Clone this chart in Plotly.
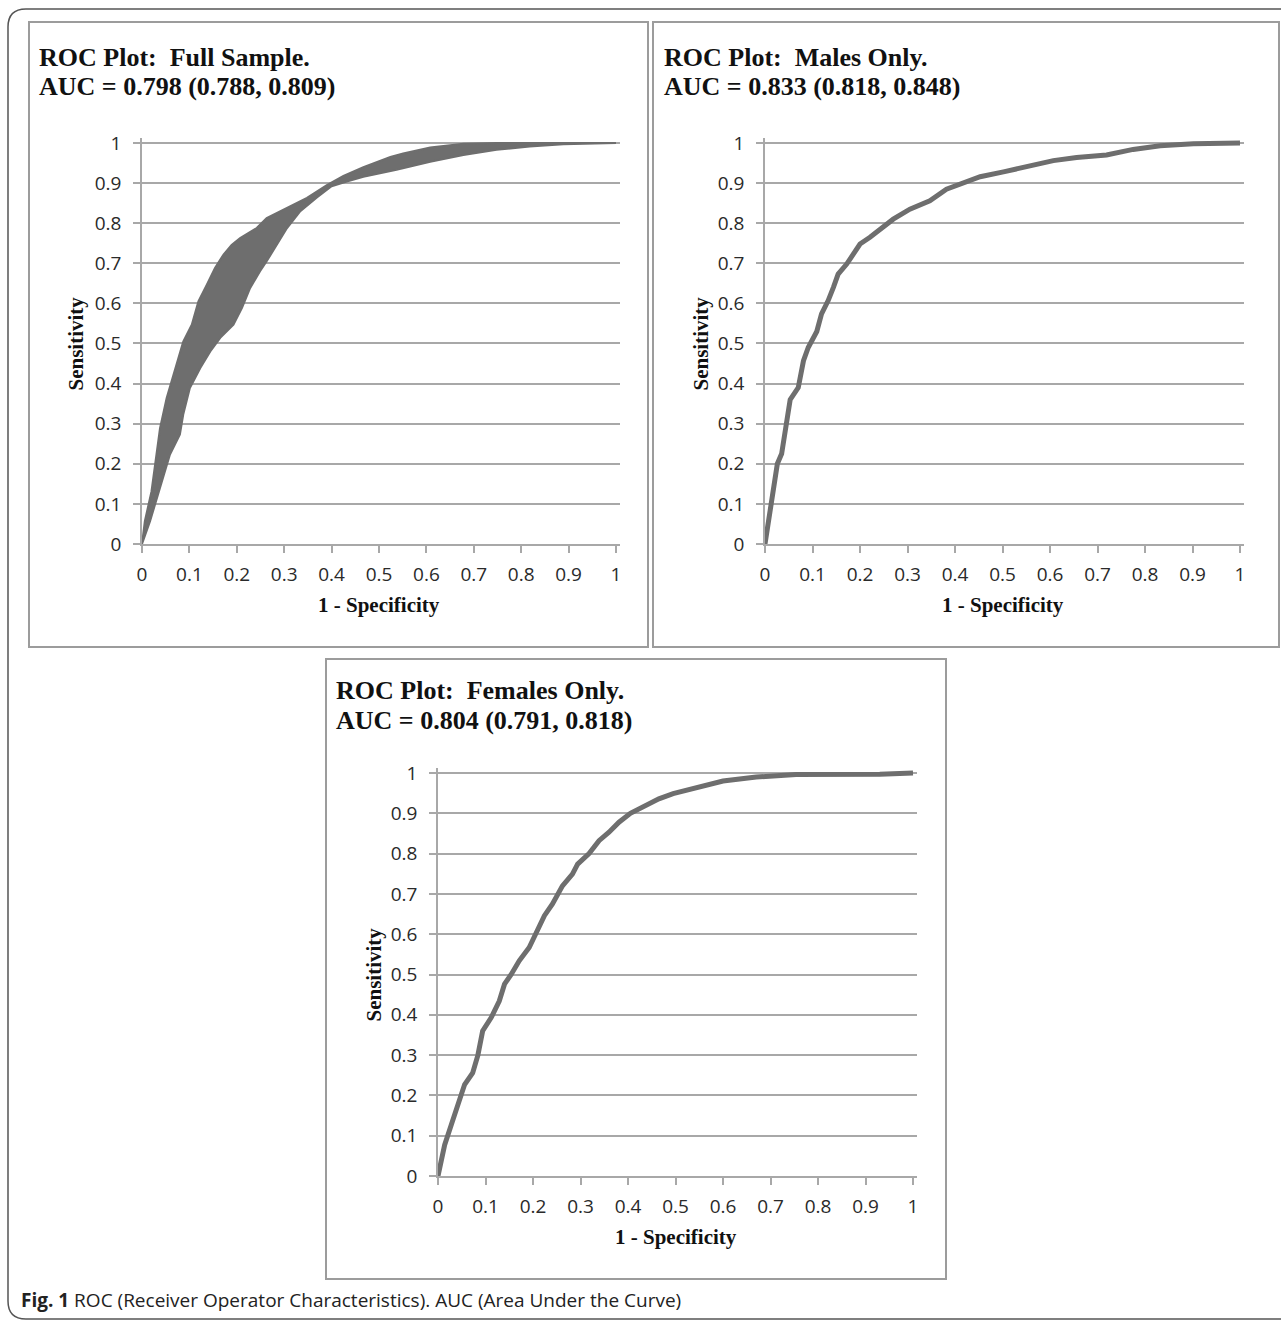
import plotly.graph_objects as go

# ---------------- data ----------------
tick_vals = [0, 0.1, 0.2, 0.3, 0.4, 0.5, 0.6, 0.7, 0.8, 0.9, 1]
tick_text = ["0", "0.1", "0.2", "0.3", "0.4", "0.5", "0.6", "0.7", "0.8", "0.9", "1"]

# Full sample: band of the curve (upper and lower edges)
full_upper_fpr = [0, 0.006, 0.02, 0.031, 0.038, 0.052, 0.07, 0.087, 0.105, 0.119, 0.137, 0.154,
                  0.172, 0.189, 0.207, 0.242, 0.263, 0.291, 0.306, 0.348, 0.39, 0.425, 0.467,
                  0.524, 0.551, 0.608, 0.678, 0.748, 1.0]
full_upper_tpr = [0, 0.057, 0.131, 0.223, 0.289, 0.364, 0.439, 0.505, 0.547, 0.605, 0.647, 0.688,
                  0.722, 0.746, 0.763, 0.788, 0.813, 0.829, 0.838, 0.863, 0.895, 0.918, 0.94,
                  0.965, 0.974, 0.989, 0.998, 1.0, 1.0]
full_lower_fpr = [0, 0.017, 0.038, 0.059, 0.08, 0.087, 0.101, 0.123, 0.144, 0.165, 0.193, 0.211,
                  0.228, 0.249, 0.263, 0.285, 0.306, 0.334, 0.369, 0.4, 0.432, 0.467, 0.537,
                  0.608, 0.678, 0.748, 0.818, 0.889, 1.0]
full_lower_tpr = [0, 0.057, 0.14, 0.223, 0.273, 0.323, 0.389, 0.439, 0.48, 0.514, 0.547, 0.589,
                  0.638, 0.68, 0.705, 0.746, 0.788, 0.83, 0.864, 0.892, 0.904, 0.916, 0.933,
                  0.953, 0.97, 0.983, 0.991, 0.997, 1.0]

male_fpr = [0, 0.007, 0.014, 0.026, 0.035, 0.042, 0.053, 0.07, 0.081, 0.091, 0.109, 0.119, 0.133,
            0.144, 0.154, 0.172, 0.186, 0.2, 0.221, 0.249, 0.27, 0.305, 0.347, 0.382, 0.41, 0.453,
            0.502, 0.551, 0.607, 0.656, 0.719, 0.775, 0.832, 0.902, 1.0]
male_tpr = [0, 0.06, 0.10, 0.20, 0.225, 0.28, 0.36, 0.39, 0.457, 0.49, 0.53, 0.574, 0.607,
            0.64, 0.673, 0.698, 0.723, 0.748, 0.765, 0.79, 0.81, 0.835, 0.856, 0.885, 0.897, 0.916,
            0.928, 0.941, 0.956, 0.964, 0.97, 0.984, 0.993, 0.998, 1.0]

female_fpr = [0, 0.007, 0.014, 0.028, 0.038, 0.049, 0.056, 0.073, 0.084, 0.094, 0.112, 0.129,
              0.14, 0.154, 0.171, 0.192, 0.21, 0.224, 0.241, 0.262, 0.283, 0.294, 0.318, 0.339,
              0.36, 0.381, 0.405, 0.437, 0.465, 0.495, 0.551, 0.6, 0.67, 0.754, 0.93, 1.0]
female_tpr = [0, 0.036, 0.077, 0.127, 0.16, 0.2, 0.227, 0.256, 0.30, 0.36, 0.393, 0.434,
              0.476, 0.50, 0.534, 0.567, 0.608, 0.646, 0.675, 0.72, 0.749, 0.774, 0.8, 0.832,
              0.853, 0.878, 0.9, 0.92, 0.936, 0.949, 0.965, 0.98, 0.99, 0.996, 0.997, 1.0]

titles = [("ROC Plot:\u00a0 Full Sample.", "AUC = 0.798 (0.788, 0.809)"),
          ("ROC Plot:\u00a0 Males Only.", "AUC = 0.833 (0.818, 0.848)"),
          ("ROC Plot:\u00a0 Females Only.", "AUC = 0.804 (0.791, 0.818)")]
x_title = "1 - Specificity"
y_title = "Sensitivity"
caption_bold = "Fig. 1"
caption_rest = " ROC (Receiver Operator Characteristics). AUC (Area Under the Curve)"

# ---------------- layout geometry ----------------
W, H = 1281, 1324
def px(x): return x / W
def py(y): return 1 - y / H

panels = [  # pixel positions of value 0 and value 1 on each axis
    dict(x0=142, x1=616, y0=544, y1=143, box=(29, 22, 648, 647), tx=37, ty=57, ylab=75),
    dict(x0=765, x1=1240, y0=544, y1=143, box=(653, 22, 1279, 647), tx=662, ty=57, ylab=700),
    dict(x0=438, x1=913, y0=1176, y1=773, box=(326, 659, 946, 1279), tx=334, ty=690, ylab=373),
]
XMAX, YMAX = 1.008, 1.012

GRID = "#a8a8a8"
CURVE = "#6e6e6e"
SERIF = "Liberation Serif, Times New Roman, serif"
SANS = "Open Sans, Liberation Sans, sans-serif"

fig = go.Figure()

band_x = full_upper_fpr + full_lower_fpr[::-1]
band_y = full_upper_tpr + full_lower_tpr[::-1]
fig.add_trace(go.Scatter(x=band_x, y=band_y, mode="lines", fill="toself", fillcolor=CURVE,
                         line=dict(color=CURVE, width=2), xaxis="x", yaxis="y",
                         showlegend=False, hoverinfo="skip"))
fig.add_trace(go.Scatter(x=male_fpr, y=male_tpr, mode="lines",
                         line=dict(color=CURVE, width=5), xaxis="x2", yaxis="y2",
                         showlegend=False))
fig.add_trace(go.Scatter(x=female_fpr, y=female_tpr, mode="lines",
                         line=dict(color=CURVE, width=5), xaxis="x3", yaxis="y3",
                         showlegend=False))

annotations = []
shapes = []
layout = {}
for i, p in enumerate(panels):
    sfx = "" if i == 0 else str(i + 1)
    sx = p["x1"] - p["x0"]
    sy = p["y0"] - p["y1"]
    xdom = [px(p["x0"]), px(p["x0"] + sx * XMAX)]
    ydom = [py(p["y0"]), py(p["y0"] - sy * YMAX)]
    layout["xaxis" + sfx] = dict(
        domain=xdom, range=[0, XMAX], anchor="y" + sfx, tickvals=tick_vals, ticktext=tick_text,
        automargin=False, showgrid=False, zeroline=False, showline=True, linecolor=GRID,
        linewidth=1.5, ticks="outside", ticklen=7, tickwidth=1.5, tickcolor=GRID,
        ticklabelstandoff=5, tickfont=dict(family=SANS, size=19, color="#2a2a2a"),
        fixedrange=True)
    layout["yaxis" + sfx] = dict(
        domain=ydom, range=[0, YMAX], anchor="x" + sfx, tickvals=tick_vals, ticktext=tick_text,
        automargin=False, showgrid=True, gridcolor=GRID, gridwidth=1.5, zeroline=False,
        showline=True, linecolor=GRID, linewidth=1.5, ticks="outside", ticklen=7,
        tickwidth=1.5, tickcolor=GRID, ticklabelstandoff=8,
        tickfont=dict(family=SANS, size=19, color="#2a2a2a"), fixedrange=True)

    bx0, by0, bx1, by1 = p["box"]
    shapes.append(dict(type="rect", xref="paper", yref="paper", x0=px(bx0), x1=px(bx1),
                       y0=py(by1), y1=py(by0), line=dict(color="#9c9c9c", width=2),
                       layer="below"))
    t1, t2 = titles[i]
    annotations.append(dict(text="<b>%s</b>" % t1, x=px(p["tx"]), y=py(p["ty"]), xref="paper",
                            yref="paper", xanchor="left", yanchor="middle", showarrow=False,
                            font=dict(family=SERIF, size=26, color="#111111")))
    annotations.append(dict(text="<b>%s</b>" % t2, x=px(p["tx"]), y=py(p["ty"] + 30), xref="paper",
                            yref="paper", xanchor="left", yanchor="middle", showarrow=False,
                            font=dict(family=SERIF, size=26, color="#111111")))
    annotations.append(dict(text="<b>%s</b>" % x_title, x=px((p["x0"] + p["x1"]) / 2),
                            y=py(p["y0"] + 61), xref="paper", yref="paper", xanchor="center",
                            yanchor="middle", showarrow=False,
                            font=dict(family=SERIF, size=21, color="#111111")))
    annotations.append(dict(text="<b>%s</b>" % y_title, x=px(p["ylab"]),
                            y=py((p["y0"] + p["y1"]) / 2), xref="paper", yref="paper",
                            xanchor="center", yanchor="middle", textangle=-90, showarrow=False,
                            font=dict(family=SERIF, size=21, color="#111111")))

annotations.append(dict(text="<b>%s</b>%s" % (caption_bold, caption_rest), x=px(19), y=py(1300),
                        xref="paper", yref="paper", xanchor="left", yanchor="middle",
                        showarrow=False, font=dict(family=SANS, size=19, color="#222222")))

# outer rounded frame (open on the right, beyond the page edge)
fx0, fy0, fy1, r = 8, 9, 1319, 18
path = ("M %f,%f L %f,%f Q %f,%f %f,%f L %f,%f Q %f,%f %f,%f L %f,%f" % (
    px(W + 20), py(fy0), px(fx0 + r), py(fy0), px(fx0), py(fy0), px(fx0), py(fy0 + r),
    px(fx0), py(fy1 - r), px(fx0), py(fy1), px(fx0 + r), py(fy1), px(W + 20), py(fy1)))
shapes.append(dict(type="path", xref="paper", yref="paper", path=path,
                   line=dict(color="#555555", width=1.5), layer="below"))

fig.update_layout(width=W, height=H, autosize=False,
                  margin=dict(l=0, r=0, t=0, b=0, pad=0, autoexpand=False),
                  paper_bgcolor="white", plot_bgcolor="white", showlegend=False,
                  annotations=annotations, shapes=shapes, **layout)

fig.write_html("out.html", config={"displayModeBar": False, "responsive": False},
               post_script=("document.documentElement.style.margin='0';"
                            "document.body.style.margin='0';document.body.style.padding='0';"
                            "document.documentElement.style.overflow='hidden';"
                            "document.body.style.overflow='hidden';"
                            "var d=document.getElementById('{plot_id}');"
                            "d.style.position='fixed';d.style.left='0px';d.style.top='0px';"))
